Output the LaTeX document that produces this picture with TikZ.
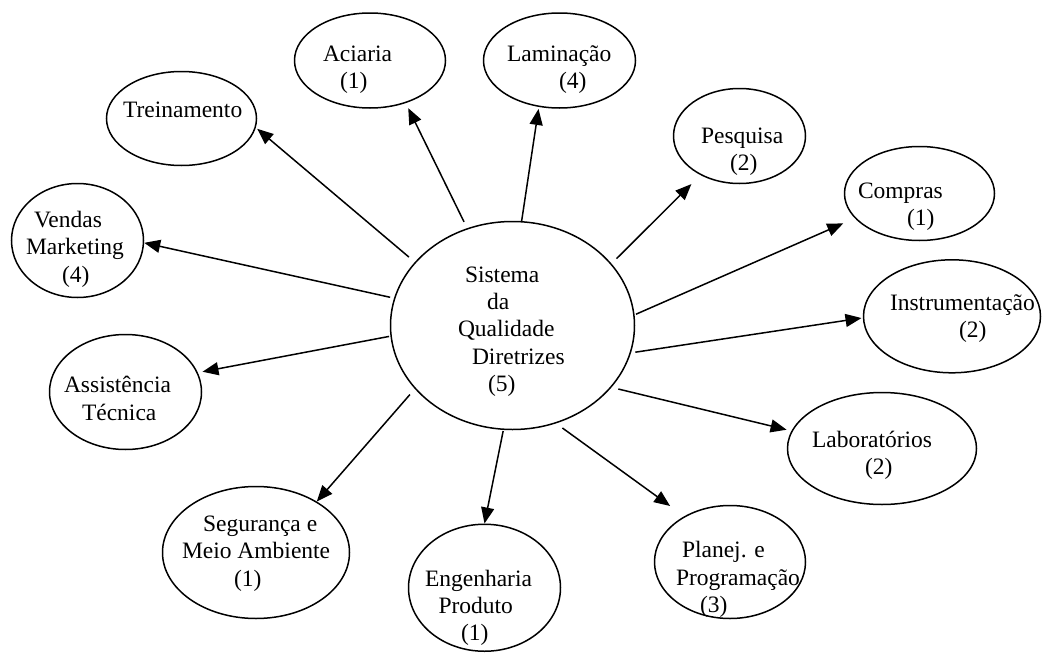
\documentclass[tikz,border=0pt]{standalone}
\usepackage{fontspec}
\setmainfont{Liberation Serif}
\usetikzlibrary{arrows.meta,shapes.geometric}

% text of a bubble: first baseline raised by #1, lines indented by hand
\newcommand{\bubtext}[2]{\smash{\makebox[0pt][l]{\raisebox{#1}{%
  \begin{tabular}[t]{@{}l@{}}#2\end{tabular}}}}}

\begin{document}
\begin{tikzpicture}[x=1pt, y=-1pt,
  bubble/.style={draw, ellipse, line width=1.5pt, inner sep=0pt,
                 font=\fontsize{23.5}{27.3}\selectfont},
  arr/.style={-{Triangle[length=16pt, width=13pt]}, line width=1.5pt}
]
  \useasboundingbox (0,0) rectangle (1042,653);
  % Centre
  \node[bubble, minimum width=244pt, minimum height=208pt] (sist) at (512.5,325.5)
    {\bubtext{43.2pt}{\hspace*{-47.5pt}Sistema\\ \hspace*{-25.5pt}da\\
     \hspace*{-54.5pt}Qualidade\\ \hspace*{-40.5pt}Diretrizes\\ \hspace*{-24.5pt}(5)}};
  % Upper ring
  \node[bubble, minimum width=150pt, minimum height=94pt] (treino) at (181.5,118.5)
    {\bubtext{1.5pt}{\hspace*{-58.5pt}Treinamento}};
  \node[bubble, minimum width=132pt, minimum height=114pt] (vendas) at (77.5,240.5)
    {\bubtext{13pt}{\hspace*{-43.5pt}Vendas\\ \hspace*{-51.5pt}Marketing\\ \hspace*{-15.5pt}(4)}};
  \node[bubble, minimum width=151pt, minimum height=95pt] (aciaria) at (370,60.5)
    {\bubtext{-0.5pt}{\hspace*{-47pt}Aciaria\\ \hspace*{-30pt}(1)}};
  \node[bubble, minimum width=152pt, minimum height=95pt] (lamin) at (559.5,60.5)
    {\bubtext{-0.5pt}{\hspace*{-52.5pt}Laminação\\ \hspace*{-0.5pt}(4)}};
  \node[bubble, minimum width=132pt, minimum height=95pt] (pesq) at (739.5,136)
    {\bubtext{-7.5pt}{\hspace*{-38.5pt}Pesquisa\\ \hspace*{-9.5pt}(2)}};
  \node[bubble, minimum width=150pt, minimum height=94pt] (compras) at (919.5,193.5)
    {\bubtext{-4.5pt}{\hspace*{-61.5pt}Compras\\ \hspace*{-12.5pt}(1)}};
  \node[bubble, minimum width=177pt, minimum height=113pt] (instr) at (952,316.3)
    {\bubtext{6.3pt}{\hspace*{-62pt}Instrumentação\\ \hspace*{7pt}(2)}};
  % Lower ring
  \node[bubble, minimum width=189pt, minimum height=112pt] (labor) at (882,448.5)
    {\bubtext{1.5pt}{\hspace*{-70pt}Laboratórios\\ \hspace*{-17pt}(2)}};
  \node[bubble, minimum width=151pt, minimum height=113pt] (planej) at (730,562)
    {\bubtext{4.3pt}{\hspace*{-48pt}Planej. e\\ \hspace*{-54pt}Programação\\ \hspace*{-30pt}(3)}};
  \node[bubble, minimum width=152pt, minimum height=127pt] (eng) at (484.5,587.75)
    {\bubtext{1.75pt}{\hspace*{-59.5pt}Engenharia\\ \hspace*{-46pt}Produto\\ \hspace*{-23.5pt}(1)}};
  \node[bubble, minimum width=187pt, minimum height=132pt] (seg) at (256,552.5)
    {\bubtext{21pt}{\hspace*{-53pt}Segurança e\\ \hspace*{-74pt}Meio Ambiente\\ \hspace*{-22pt}(1)}};
  \node[bubble, minimum width=152pt, minimum height=115pt] (assist) at (125.5,392)
    {\bubtext{-0.7pt}{\hspace*{-61.5pt}Assistência\\ \hspace*{-43.5pt}Técnica}};
  % Spokes
  \draw[arr, shorten <=7.7pt, shorten >=1.8pt] (sist.147) -- (treino.-7);
  \draw[arr, shorten <=7pt, shorten >=5.6pt] (sist.115) -- (aciaria.-50);
  \draw[arr, shorten >=2pt] (sist.85) -- (lamin.-114);
  \draw[arr, shorten <=7pt, shorten >=12.7pt] (sist.32) -- (pesq.-135);
  \draw[arr, shorten <=1.5pt, shorten >=12.6pt] (sist.5) -- (compras.-159);
  \draw[arr, shorten <=4.4pt, shorten >=1.3pt] (sist.-13) -- (instr.-179);
  \draw[arr, shorten <=7pt, shorten >=5pt] (sist.-32) -- (labor.169);
  \draw[arr, shorten <=7.8pt, shorten >=17.4pt] (sist.-66) -- (planej.135);
  \draw[arr, shorten <=1pt] (sist.-95) -- (eng.90);
  \draw[arr, shorten <=7.5pt] (sist.-147) -- (seg.40);
  \draw[arr, shorten <=1.3pt, shorten >=4.7pt] (sist.-175) -- (assist.15);
  \draw[arr, shorten <=4pt] (sist.167) -- (vendas.-2);
\end{tikzpicture}
\end{document}
